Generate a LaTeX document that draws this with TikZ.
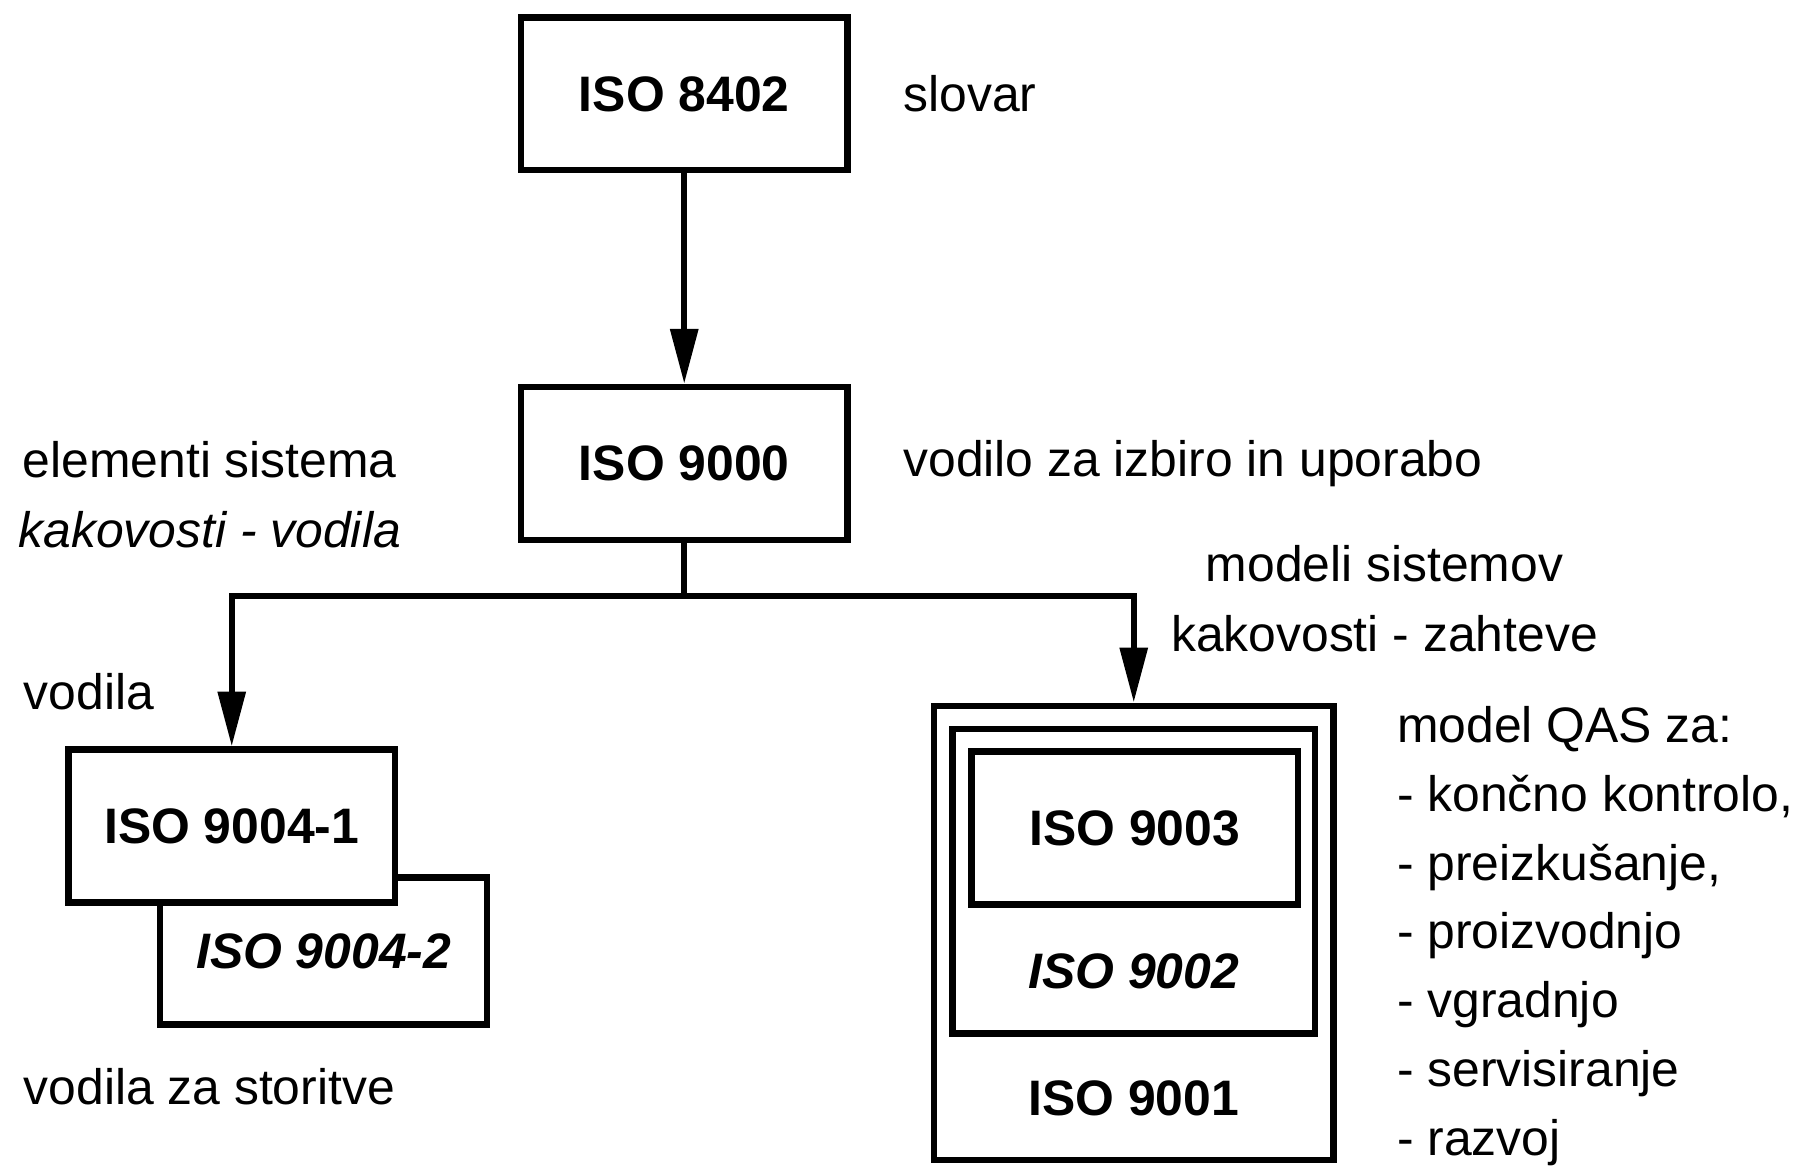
\documentclass[tikz,border=0pt]{standalone}
\usepackage{fontspec}
\setmainfont{Liberation Sans}
\usetikzlibrary{positioning}
\usetikzlibrary{arrows.meta}
\tikzstyle{isobox}=[draw,line width=1.8pt,fill=white,minimum width=3.27cm,minimum height=1.53cm,font=\bfseries]
\tikzstyle{qbox}=[draw,line width=1.8pt]
\tikzstyle{lbl}=[inner sep=0pt]
\tikzstyle{tip}=[line width=1.8pt,-{Triangle[length=5.5mm,width=2.7mm]}]

\begin{document}
\fontsize{14.2}{20}\selectfont
\begin{tikzpicture}[node distance=0.52cm]
  \useasboundingbox (0,0) rectangle (18,-11.73);
  \node [isobox] (iso8402) at (6.85,-0.94) {ISO 8402};
  \node [isobox] (iso9000) at (6.85,-4.64) {ISO 9000};
  \node [lbl] (slovar) [right=of iso8402] {slovar};
  \node [lbl] (izbira) [right=of iso9000] {vodilo za izbiro in uporabo};
  \node [lbl,align=center] (elem) at (2.10,-4.95) {elementi sistema\\\textit{kakovosti - vodila}};
  \node [isobox,font=\bfseries\itshape,minimum height=1.47cm] (iso9004b) at (3.24,-9.52) {ISO 9004-2};
  \node [isobox] (iso9004a) at (2.32,-8.27) {ISO 9004-1};
  \node [lbl,anchor=west] (vodila) at (0.23,-6.92) {vodila};
  \node [lbl,anchor=west] (storitve) at (0.23,-10.88) {vodila za storitve};
  \node [qbox,minimum width=4.0cm,minimum height=4.55cm] (q1) at (11.35,-9.34) {};
  \node [qbox,minimum width=3.63cm,minimum height=3.05cm] (q2) at (11.35,-8.82) {};
  \node [isobox] (iso9003) at (11.36,-8.29) {ISO 9003};
  \node [lbl,font=\bfseries\itshape] (iso9002) at (11.35,-9.72) {ISO 9002};
  \node [lbl,font=\bfseries] (iso9001) at (11.35,-11.0) {ISO 9001};
  \node [lbl,align=center] (modeli) at (13.86,-5.99) {modeli sistemov\\kakovosti - zahteve};
  \node [lbl,align=left,anchor=west,font=\fontsize{14.2}{19.6}\selectfont] (qas) at (13.98,-9.37)
    {model QAS za:\\- končno kontrolo,\\- preizkušanje,\\- proizvodnjo\\- vgradnjo\\- servisiranje\\- razvoj};
  \coordinate (split) at (6.85,-5.97);
  \draw [tip] (iso8402) -- (iso9000);
  \draw [line width=1.8pt] (iso9000) -- (split);
  \draw [tip] (split) -| (iso9004a);
  \draw [tip] (split) -| (q1);
\end{tikzpicture}
\end{document}
